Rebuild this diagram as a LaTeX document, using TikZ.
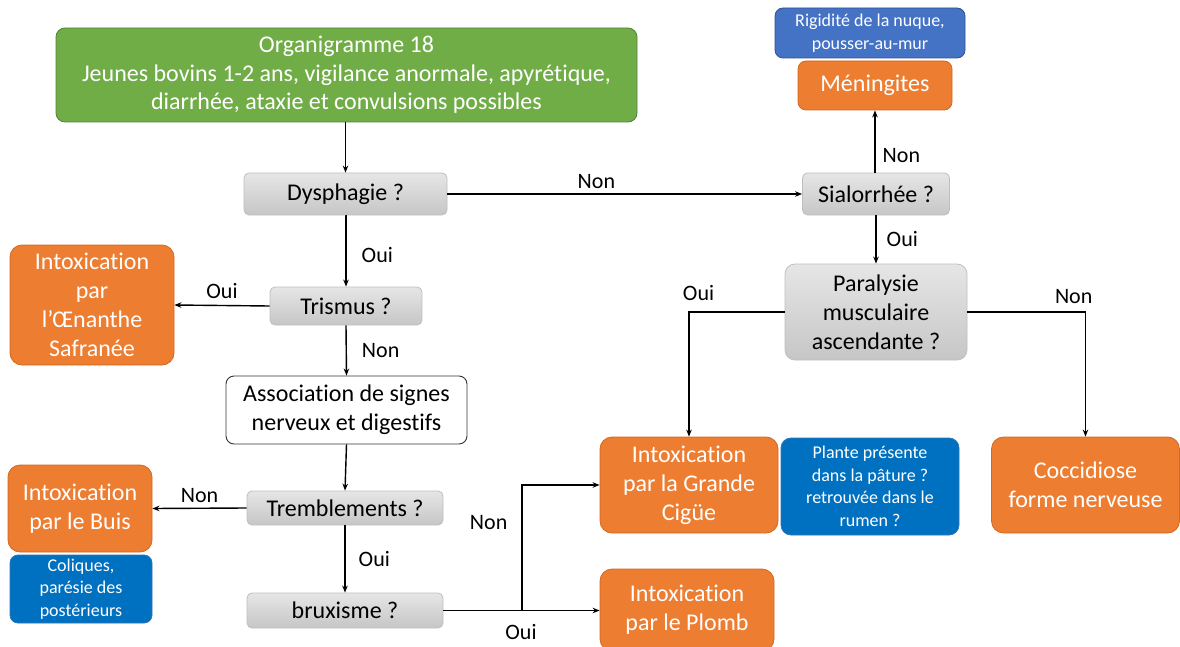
\documentclass[tikz,border=0pt]{standalone}
\usepackage{fontspec}
\setmainfont{Carlito}[Ligatures=NoCommon]
\usetikzlibrary{arrows.meta}
\definecolor{vert}{HTML}{70AD47}
\definecolor{vertbord}{HTML}{548235}
\definecolor{orange}{HTML}{ED7D31}
\definecolor{orangebord}{HTML}{D2691E}
\definecolor{bleu}{HTML}{4472C4}
\definecolor{bleubord}{HTML}{2F528F}
\definecolor{bleuf}{HTML}{0070C0}
\definecolor{bleufbord}{HTML}{2E75B6}
\definecolor{grishaut}{HTML}{E6E6E6}
\definecolor{grisbas}{HTML}{C6C6C6}
\definecolor{grisbord}{HTML}{BFBFBF}
\tikzset{
  boite/.style={rectangle, rounded corners=9pt, inner sep=0pt, align=center},
  titre/.style={boite, fill=vert, draw=vertbord, line width=0.8pt, text=white,
    font=\fontsize{24}{28.5}\selectfont},
  question/.style={boite, rounded corners=5pt, top color=grishaut, bottom color=grisbas,
    draw=grisbord, line width=0.8pt, font=\fontsize{24}{29}\selectfont},
  blanc/.style={boite, rounded corners=8pt, fill=white, draw=black!80, line width=0.9pt,
    font=\fontsize{24}{29}\selectfont},
  diag/.style={boite, rounded corners=12pt, fill=orange, draw=orangebord, line width=0.8pt,
    text=white, font=\fontsize{24}{29}\selectfont},
  signe/.style={boite, rounded corners=8pt, fill=bleuf, draw=bleufbord, line width=0.8pt,
    text=white, font=\fontsize{18}{22.5}\selectfont},
  signeb/.style={signe, fill=bleu, draw=bleubord},
  fleche/.style={-{Stealth[length=7pt,width=5.5pt]}, line width=1.4pt},
  trait/.style={line width=1.4pt},
  rep/.style={inner sep=0pt, font=\fontsize{22}{24}\selectfont}
}
\begin{document}
\begin{tikzpicture}[x=1pt,y=-1pt]
\useasboundingbox (0,0) rectangle (1180,647);

% boxes
\node[titre, minimum width=581, minimum height=94] (org) at (346.5,75)
  {\raisebox{-2pt}{Organigramme 18}\\\raisebox{-2pt}{Jeunes bovins 1-2 ans, vigilance anormale, apyrétique,}\\\raisebox{-2pt}{diarrhée, ataxie et convulsions possibles}};
\node[signeb, minimum width=190, minimum height=50] (rig) at (870,33)
  {Rigidité de la nuque,\\pousser-au-mur};
\node[diag, rounded corners=8pt, minimum width=154, minimum height=49] (men) at (875,85.5) {Méningites};
\node[question, minimum width=203, minimum height=42] (dys) at (345.5,194) {Dysphagie ?};
\node[question, minimum width=147, minimum height=42] (sia) at (876,194) {Sialorrhée ?};
\node[question, minimum width=152, minimum height=38] (tri) at (346,306) {Trismus ?};
\node[diag, minimum width=164, minimum height=120] (oen) at (92,305)
  {Intoxication\\par\\l’Œnanthe\\Safranée};
\node[blanc, minimum width=241, minimum height=68] (asso) at (346.5,410)
  {Association de signes\\nerveux et digestifs};
\node[question, minimum width=196, minimum height=34] (tre) at (345,508) {Tremblements ?};
\node[diag, minimum width=144, minimum height=87] (bui) at (80,508.5)
  {Intoxication\\par le Buis};
\node[signe, minimum width=142, minimum height=68] (col) at (81,589)
  {Coliques,\\parésie des\\postérieurs};
\node[question, minimum width=196, minimum height=35] (bru) at (345,610.5) {bruxisme ?};
\node[question, rounded corners=10pt, minimum width=182, minimum height=96] (par) at (876,312)
  {Paralysie\\musculaire\\ascendante ?};
\node[diag, minimum width=178, minimum height=96] (cig) at (689,485)
  {Intoxication\\par la Grande\\Cigüe};
\node[signe, rounded corners=10pt, minimum width=178, minimum height=97] (pla) at (870,486.5)
  {Plante présente\\dans la pâture ?\\retrouvée dans le\\rumen ?};
\node[diag, minimum width=188, minimum height=96] (coc) at (1085.5,485)
  {Coccidiose\\forme nerveuse};
\node[diag, minimum width=174, minimum height=82] (plo) at (687,610)
  {Intoxication\\par le Plomb};

% connectors
\draw[fleche] (dys.north |- org.south) -- (dys.north);
\draw[fleche] (dys.east) -- (sia.west) node[rep, pos=0.42, above=5pt] {Non};
\draw[fleche] (sia.north) -- (men.south |- sia.north) -- (men.south) node[rep, pos=0.28, right=7pt] {Non};
\draw[fleche] (sia.south) -- (par.north) node[rep, midway, right=10pt] {Oui};
\draw[fleche] (par.west) -| (cig.north) node[rep, pos=0.45, above=11pt] {Oui};
\draw[fleche] (par.east) -| (coc.north) node[rep, pos=0.45, above=8pt] {Non};
\draw[fleche] (dys.south) -- (tri.north |- dys.south) -- (tri.north) node[rep, pos=0.55, right=15pt] {Oui};
\draw[fleche] (tri.west) -- (oen.east) node[rep, midway, above=6pt] {Oui};
\draw[fleche] (tri.south) -- (asso.north) node[rep, midway, right=15pt] {Non};
\draw[fleche] (asso.south) -- (tre.north);
\draw[fleche] (tre.west) -- (bui.east) node[rep, midway, above=5pt] {Non};
\draw[fleche] (tre.south) -- (bru.north) node[rep, midway, right=13pt] {Oui};
\coordinate (emb) at (522,610.5);
\draw[trait] (bru.east) -- (emb);
\draw[fleche] (emb) |- (cig.west) node[rep, pos=0.35, left=14pt] {Non};
\draw[fleche] (emb) -- (emb -| plo.west);
\node[rep] (oui) at (521,632) {Oui};
\end{tikzpicture}
\end{document}
